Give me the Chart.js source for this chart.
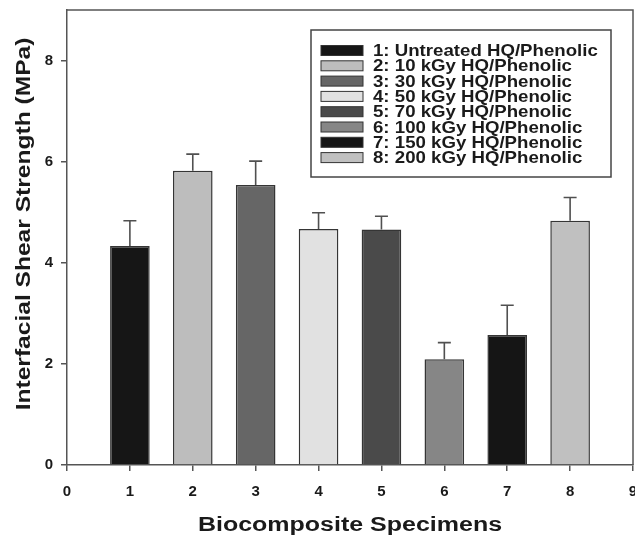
<!DOCTYPE html>
<html><head><meta charset="utf-8">
<script src="https://cdn.jsdelivr.net/npm/chart.js@4/dist/chart.umd.min.js"></script>
<style>html,body{margin:0;padding:0;background:#fff;}#wrap{width:635px;height:539px;}</style>
</head><body><div id="wrap"><canvas id="c" width="635" height="539"></canvas></div>
<script>
// ---- data ----
const specimens = [1, 2, 3, 4, 5, 6, 7, 8];
const strength = [4.33, 5.82, 5.54, 4.67, 4.66, 2.09, 2.57, 4.83];
const errorPlus = [0.50, 0.33, 0.47, 0.32, 0.26, 0.33, 0.59, 0.46];
const legendLabels = [
  '1: Untreated HQ/Phenolic',
  '2: 10 kGy HQ/Phenolic',
  '3: 30 kGy HQ/Phenolic',
  '4: 50 kGy HQ/Phenolic',
  '5: 70 kGy HQ/Phenolic',
  '6: 100 kGy HQ/Phenolic',
  '7: 150 kGy HQ/Phenolic',
  '8: 200 kGy HQ/Phenolic'
];
const xTicks = [0, 1, 2, 3, 4, 5, 6, 7, 8, 9];
const yTicks = [0, 2, 4, 6, 8];
const xTitle = 'Biocomposite Specimens';
const yTitle = 'Interfacial Shear Strength (MPa)';

// ---- styles ----
const barColors = ['#161616', '#bdbdbd', '#666666', '#e1e1e1', '#4a4a4a', '#868686', '#151515', '#c0c0c0'];
const FONT = "'Liberation Sans', Arial, Helvetica, sans-serif";
const AXIS = '#555555';

const errorBars = {
  id: 'errorBars',
  afterDatasetsDraw(chart) {
    const ctx = chart.ctx, ys = chart.scales.y;
    const meta = chart.getDatasetMeta(0);
    ctx.save();
    ctx.strokeStyle = '#505050';
    ctx.lineWidth = 1.6;
    meta.data.forEach((el, i) => {
      const top = ys.getPixelForValue(strength[i] + errorPlus[i]);
      ctx.beginPath();
      ctx.moveTo(el.x, el.y);
      ctx.lineTo(el.x, top);
      ctx.moveTo(el.x - 6.5, top);
      ctx.lineTo(el.x + 6.5, top);
      ctx.stroke();
    });
    ctx.restore();
  }
};

const frameAndText = {
  id: 'frameAndText',
  afterDraw(chart) {
    const ctx = chart.ctx, a = chart.chartArea;
    ctx.save();
    // frame top & right
    ctx.strokeStyle = AXIS;
    ctx.lineWidth = 1.5;
    ctx.beginPath();
    ctx.moveTo(a.left, a.top);
    ctx.lineTo(a.right, a.top);
    ctx.lineTo(a.right, a.bottom);
    ctx.stroke();

    // axis titles
    ctx.fillStyle = '#1a1a1a';
    ctx.textAlign = 'center';
    ctx.textBaseline = 'middle';
    ctx.font = 'bold 20px ' + FONT;
    ctx.save();
    ctx.translate((a.left + a.right) / 2, 525);
    ctx.scale(1.25, 1);
    ctx.fillText(xTitle, 0, 0);
    ctx.restore();

    ctx.font = 'bold 21px ' + FONT;
    ctx.save();
    ctx.translate(24, 224);
    ctx.rotate(-Math.PI / 2);
    ctx.scale(1.17, 1);
    ctx.fillText(yTitle, 0, 0);
    ctx.restore();

    // legend
    const bx = a.left + 244, by = a.top + 20, bw = 300, bh = 147;
    ctx.fillStyle = '#fff';
    ctx.fillRect(bx, by, bw, bh);
    ctx.strokeStyle = '#444';
    ctx.lineWidth = 1.5;
    ctx.strokeRect(bx, by, bw, bh);
    ctx.font = 'bold 16.5px ' + FONT;
    ctx.textAlign = 'left';
    ctx.textBaseline = 'middle';
    legendLabels.forEach((lab, i) => {
      const cy = by + 20.5 + i * 15.3;
      ctx.fillStyle = barColors[i];
      ctx.fillRect(bx + 10, cy - 5, 42, 10);
      ctx.strokeStyle = '#333';
      ctx.lineWidth = 1;
      ctx.strokeRect(bx + 10, cy - 5, 42, 10);
      ctx.fillStyle = '#1a1a1a';
      ctx.save();
      ctx.translate(bx + 62, cy + 1);
      ctx.scale(1.13, 1);
      ctx.fillText(lab, 0, 0);
      ctx.restore();
    });
    ctx.restore();
  }
};

function noPad(s) { s.paddingLeft = 0; s.paddingRight = 0; s.paddingTop = 0; s.paddingBottom = 0; }

new Chart(document.getElementById('c'), {
  type: 'bar',
  data: {
    datasets: [{
      data: specimens.map((x, i) => ({ x: x, y: strength[i] })),
      backgroundColor: barColors,
      borderColor: '#353535',
      borderWidth: 1.5,
      barPercentage: 0.63,
      categoryPercentage: 1
    }]
  },
  options: {
    responsive: false,
    devicePixelRatio: 1,
    animation: false,
    layout: { padding: { top: 10, right: 2, left: 0, bottom: 0 } },
    plugins: { legend: { display: false }, tooltip: { enabled: false } },
    scales: {
      x: {
        type: 'linear', min: 0, max: 9, offset: false,
        afterBuildTicks: s => { s.ticks = xTicks.map(v => ({ value: v })); },
        afterFit: s => { s.height = 74; noPad(s); },
        grid: { offset: false, drawOnChartArea: false, drawTicks: true, tickLength: 6, color: AXIS, lineWidth: 1.5 },
        border: { display: true, color: AXIS, width: 1.5 },
        ticks: { color: '#1a1a1a', font: { family: FONT, size: 15, weight: 'bold' }, padding: 12, maxRotation: 0, autoSkip: false }
      },
      y: {
        type: 'linear', min: 0, max: 9,
        afterBuildTicks: s => { s.ticks = yTicks.map(v => ({ value: v })); },
        afterFit: s => { s.width = 67; noPad(s); },
        grid: { offset: false, drawOnChartArea: false, drawTicks: true, tickLength: 6, color: AXIS, lineWidth: 1.5 },
        border: { display: true, color: AXIS, width: 1.5 },
        ticks: { color: '#1a1a1a', font: { family: FONT, size: 15, weight: 'bold' }, padding: 8 }
      }
    }
  },
  plugins: [errorBars, frameAndText]
});
</script></body></html>
